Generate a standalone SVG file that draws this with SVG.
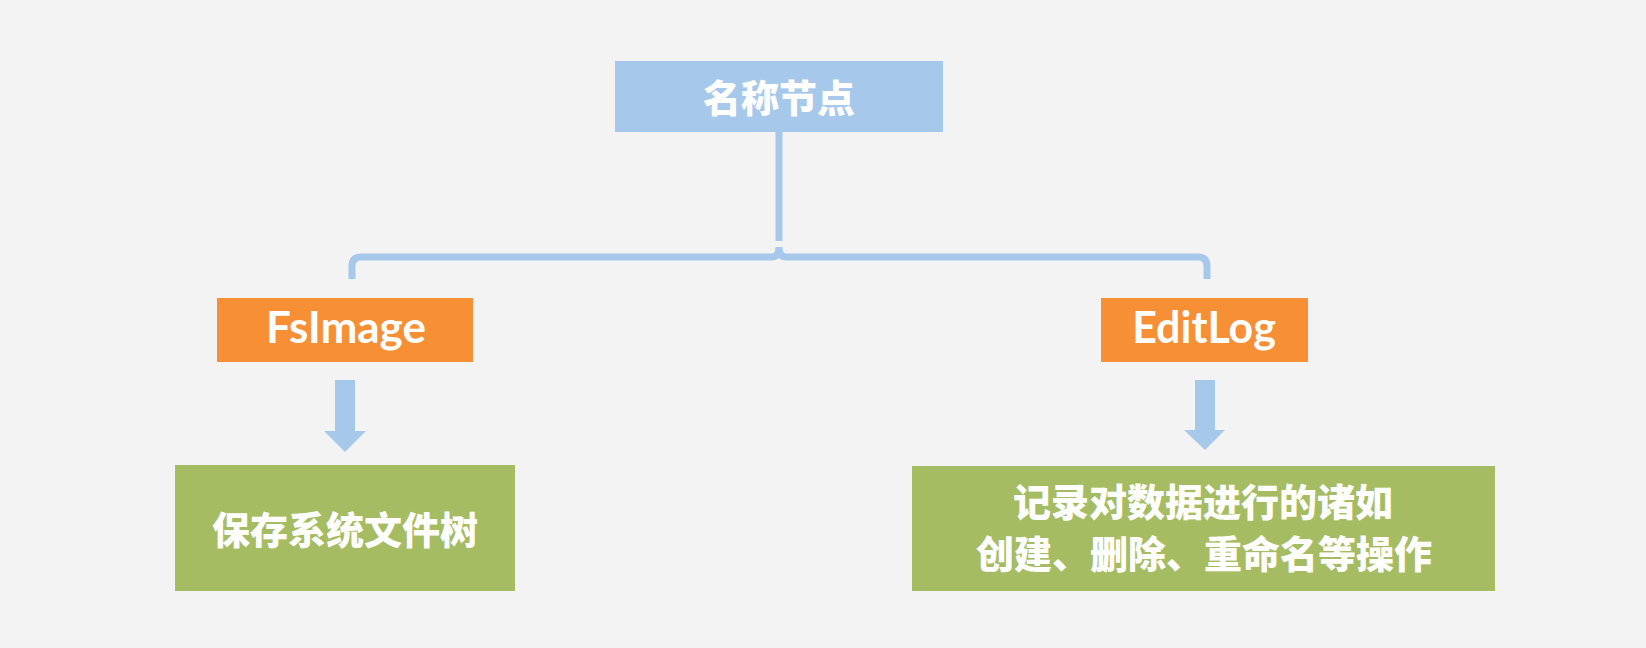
<svg xmlns="http://www.w3.org/2000/svg" width="1646" height="648" viewBox="0 0 1646 648">
<defs>
<style>
.bg{fill:#F3F3F3}
.blue{fill:#A6C8EB}
.orange{fill:#F78F35}
.green{fill:#A5BC63}
.cjk{font-family:"Noto Sans CJK SC","Noto Sans",sans-serif;font-weight:900;fill:#FFFFFF;text-anchor:middle}
.lat{font-family:Lato,"Liberation Sans",sans-serif;font-weight:bold;fill:#FFFFFF;text-anchor:middle}
.conn{fill:none;stroke:#A6C8EB;stroke-width:7}
.arrow{fill:#A6C8EB}
</style>
</defs>
<rect class="bg" x="0" y="0" width="1646" height="648"/>
<g id="connectors">
<path class="conn" d="M779,132 L779,241" stroke-width="8"/>
<path class="conn" d="M352,279 L352,266 Q352,257 361,257 L772,257 Q779,257 779,247 Q779,257 786,257 L1198,257 Q1207,257 1207,266 L1207,279"/>
<path class="arrow" d="M335,380 L355,380 L355,431 L366,431 L345,452 L324,431 L335,431 Z"/>
<path class="arrow" d="M1195,380 L1215,380 L1215,430 L1225,430 L1205,450 L1184,430 L1195,430 Z"/>
</g>
<g id="namenode">
<rect class="blue" x="615" y="61" width="328" height="71"/>
<text class="cjk" x="779" y="112" font-size="38">名称节点</text>
</g>
<g id="fsimage">
<rect class="orange" x="217" y="298" width="256" height="64"/>
<text class="lat" x="346" y="343" font-size="44">FsImage</text>
</g>
<g id="editlog">
<rect class="orange" x="1101" y="298" width="207" height="64"/>
<text class="lat" x="1204" y="343" font-size="43">EditLog</text>
</g>
<g id="fsimage-desc">
<rect class="green" x="175" y="465" width="340" height="126"/>
<text class="cjk" x="345" y="544" font-size="38">保存系统文件树</text>
</g>
<g id="editlog-desc">
<rect class="green" x="912" y="466" width="583" height="125"/>
<text class="cjk" x="1203" y="516" font-size="38">记录对数据进行的诸如</text>
<text class="cjk" x="1204" y="568" font-size="38">创建、删除、重命名等操作</text>
</g>
</svg>
